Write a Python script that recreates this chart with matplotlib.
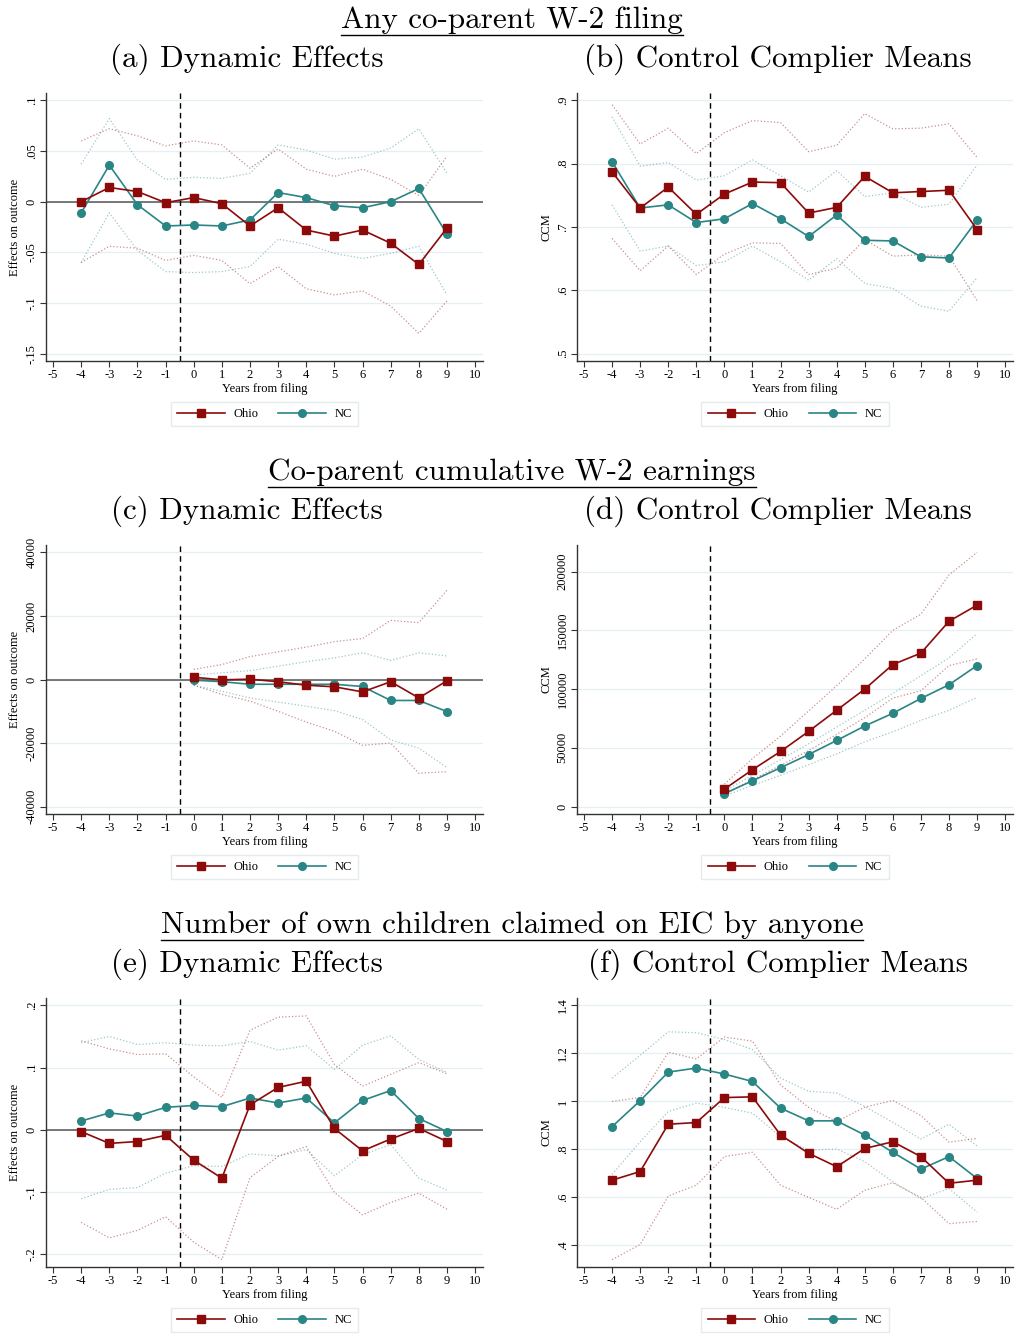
import numpy as np
import matplotlib
matplotlib.use("Agg")
import matplotlib.pyplot as plt
from matplotlib.lines import Line2D

plt.rcParams['font.family'] = ['Liberation Serif', 'DejaVu Serif']
plt.rcParams['axes.unicode_minus'] = False

# ---- data ----
years = [-4, -3, -2, -1, 0, 1, 2, 3, 4, 5, 6, 7, 8, 9]
years_post = [0, 1, 2, 3, 4, 5, 6, 7, 8, 9]

# (a) any co-parent W-2 filing, dynamic effects
a_ohio = [0.000, 0.014, 0.010, -0.001, 0.004, -0.002, -0.024, -0.006, -0.028, -0.034, -0.028, -0.041, -0.062, -0.026]
a_ohio_hi = [0.060, 0.072, 0.065, 0.055, 0.060, 0.056, 0.033, 0.052, 0.032, 0.025, 0.032, 0.022, 0.006, 0.045]
a_ohio_lo = [-0.060, -0.044, -0.046, -0.058, -0.053, -0.058, -0.081, -0.064, -0.086, -0.092, -0.088, -0.103, -0.130, -0.098]
a_nc = [-0.011, 0.036, -0.003, -0.024, -0.023, -0.024, -0.018, 0.009, 0.004, -0.004, -0.006, 0.000, 0.013, -0.032]
a_nc_hi = [0.037, 0.082, 0.041, 0.022, 0.024, 0.023, 0.028, 0.056, 0.051, 0.042, 0.044, 0.053, 0.072, 0.028]
a_nc_lo = [-0.060, -0.011, -0.048, -0.069, -0.070, -0.069, -0.064, -0.037, -0.042, -0.051, -0.056, -0.051, -0.044, -0.092]

# (b) any co-parent W-2 filing, control complier means
b_ohio = [0.787, 0.730, 0.763, 0.720, 0.752, 0.771, 0.770, 0.722, 0.731, 0.780, 0.754, 0.756, 0.758, 0.696]
b_ohio_hi = [0.893, 0.831, 0.856, 0.816, 0.849, 0.868, 0.865, 0.819, 0.829, 0.879, 0.855, 0.856, 0.863, 0.810]
b_ohio_lo = [0.682, 0.631, 0.670, 0.625, 0.657, 0.675, 0.674, 0.625, 0.635, 0.680, 0.654, 0.656, 0.654, 0.584]
b_nc = [0.803, 0.730, 0.735, 0.707, 0.713, 0.737, 0.713, 0.685, 0.719, 0.679, 0.678, 0.653, 0.651, 0.711]
b_nc_hi = [0.874, 0.796, 0.802, 0.774, 0.781, 0.806, 0.781, 0.755, 0.789, 0.748, 0.754, 0.731, 0.736, 0.798]
b_nc_lo = [0.735, 0.662, 0.670, 0.639, 0.645, 0.670, 0.645, 0.616, 0.650, 0.611, 0.603, 0.575, 0.567, 0.620]

# (c) cumulative W-2 earnings, dynamic effects
c_ohio = [700, -100, 100, -700, -1800, -2300, -3900, -700, -5800, -400]
c_ohio_hi = [3200, 4700, 7200, 8700, 10200, 11900, 12900, 18600, 17900, 28100]
c_ohio_lo = [-1800, -4700, -6800, -10000, -13400, -16300, -20700, -20000, -29500, -29000]
c_nc = [-200, -700, -1500, -1500, -1500, -1500, -2200, -6600, -6600, -10100]
c_nc_hi = [1400, 2100, 2800, 4200, 5600, 6800, 8400, 6000, 8400, 7400]
c_nc_lo = [-1800, -3700, -5800, -7100, -8400, -9800, -12600, -19000, -21600, -27700]

# (d) cumulative W-2 earnings, control complier means
d_ohio = [14900, 31400, 46900, 64000, 82000, 100000, 120900, 130600, 157700, 171400]
d_ohio_hi = [19100, 40900, 60000, 81400, 102900, 125700, 150000, 163700, 197100, 216300]
d_ohio_lo = [10600, 22900, 35100, 47700, 61400, 75700, 92300, 98600, 120000, 125700]
d_nc = [11100, 22000, 33100, 44300, 56300, 68600, 79400, 92000, 103700, 120000]
d_nc_hi = [13400, 26600, 40000, 53400, 67700, 82000, 96300, 111400, 126600, 147100]
d_nc_lo = [9100, 18000, 26600, 35700, 44900, 55100, 63700, 73400, 82000, 92900]

# (e) own children claimed on EIC, dynamic effects
e_ohio = [-0.003, -0.022, -0.019, -0.009, -0.049, -0.078, 0.040, 0.068, 0.078, 0.002, -0.034, -0.015, 0.002, -0.019]
e_ohio_hi = [0.143, 0.130, 0.121, 0.122, 0.085, 0.052, 0.160, 0.181, 0.183, 0.105, 0.070, 0.089, 0.108, 0.090]
e_ohio_lo = [-0.149, -0.174, -0.162, -0.140, -0.181, -0.209, -0.077, -0.043, -0.027, -0.101, -0.137, -0.117, -0.102, -0.128]
e_nc = [0.014, 0.027, 0.022, 0.036, 0.039, 0.037, 0.051, 0.043, 0.051, 0.011, 0.047, 0.063, 0.018, -0.003]
e_nc_hi = [0.140, 0.150, 0.137, 0.140, 0.136, 0.135, 0.142, 0.128, 0.135, 0.097, 0.136, 0.151, 0.113, 0.092]
e_nc_lo = [-0.111, -0.096, -0.093, -0.070, -0.058, -0.059, -0.039, -0.042, -0.032, -0.074, -0.040, -0.024, -0.078, -0.097]

# (f) own children claimed on EIC, control complier means
f_ohio = [0.672, 0.708, 0.905, 0.912, 1.016, 1.019, 0.860, 0.784, 0.728, 0.804, 0.832, 0.770, 0.659, 0.672]
f_ohio_hi = [1.000, 1.016, 1.205, 1.177, 1.268, 1.251, 1.069, 0.975, 0.916, 0.976, 1.004, 0.941, 0.830, 0.846]
f_ohio_lo = [0.341, 0.404, 0.606, 0.651, 0.770, 0.788, 0.651, 0.600, 0.551, 0.630, 0.661, 0.600, 0.491, 0.500]
f_nc = [0.895, 1.003, 1.122, 1.139, 1.114, 1.083, 0.972, 0.919, 0.919, 0.860, 0.788, 0.718, 0.770, 0.679]
f_nc_hi = [1.097, 1.192, 1.290, 1.286, 1.258, 1.216, 1.097, 1.042, 1.035, 0.979, 0.913, 0.843, 0.905, 0.814]
f_nc_lo = [0.696, 0.832, 0.958, 0.993, 0.975, 0.951, 0.853, 0.797, 0.802, 0.749, 0.665, 0.595, 0.637, 0.539]

section_titles = ["Any co-parent W-2 filing",
                  "Co-parent cumulative W-2 earnings",
                  "Number of own children claimed on EIC by anyone"]
panel_titles = ["(a) Dynamic Effects", "(b) Control Complier Means",
                "(c) Dynamic Effects", "(d) Control Complier Means",
                "(e) Dynamic Effects", "(f) Control Complier Means"]

xticks = list(range(-5, 11))
a_yticks = [-0.15, -0.1, -0.05, 0, 0.05, 0.1]
a_ylabels = ["-.15", "-.1", "-.05", "0", ".05", ".1"]
b_yticks = [0.5, 0.6, 0.7, 0.8, 0.9]
b_ylabels = [".5", ".6", ".7", ".8", ".9"]
c_yticks = [-40000, -20000, 0, 20000, 40000]
c_ylabels = ["-40000", "-20000", "0", "20000", "40000"]
d_yticks = [0, 50000, 100000, 150000, 200000]
d_ylabels = ["0", "50000", "100000", "150000", "200000"]
e_yticks = [-0.2, -0.1, 0, 0.1, 0.2]
e_ylabels = ["-.2", "-.1", "0", ".1", ".2"]
f_yticks = [0.4, 0.6, 0.8, 1.0, 1.2, 1.4]
f_ylabels = [".4", ".6", ".8", "1", "1.2", "1.4"]

OHIO = '#8c0a0a'
NC = '#2a8585'
GRID = '#e6eff1'
W, H = 1016, 1334

fig = plt.figure(figsize=(W / 100, H / 100), dpi=100)


def px_axes(x0, y0, x1, y1):
    # pixel box (top-left origin) -> figure fraction
    return fig.add_axes([x0 / W, 1 - y1 / H, (x1 - x0) / W, (y1 - y0) / H])


def draw_panel(ax, xs, ohio, ohio_hi, ohio_lo, nc, nc_hi, nc_lo,
               yticks, ylabels, ylabel, zero_line):
    # stata-like range: ticks or data, whichever is wider, plus a small margin
    lo = min(yticks[0], min(ohio_lo), min(nc_lo))
    hi = max(yticks[-1], max(ohio_hi), max(nc_hi))
    pad = (hi - lo) * 0.029
    ax.set_ylim(lo - pad, hi + pad)
    ax.set_xlim(-5.25, 10.28)
    for t in yticks:
        ax.axhline(t, color=GRID, lw=0.9, zorder=0)
    if zero_line:
        ax.axhline(0, color='#555555', lw=1.1, zorder=1)
    ax.axvline(-0.5, color='black', lw=1.0, ls=(0, (4, 3)), zorder=2)
    ax.plot(xs, ohio_hi, color=OHIO, ls=':', lw=0.9, alpha=0.45, zorder=2)
    ax.plot(xs, ohio_lo, color=OHIO, ls=':', lw=0.9, alpha=0.45, zorder=2)
    ax.plot(xs, nc_hi, color=NC, ls=':', lw=0.9, alpha=0.45, zorder=2)
    ax.plot(xs, nc_lo, color=NC, ls=':', lw=0.9, alpha=0.45, zorder=2)
    ax.plot(xs, ohio, color=OHIO, lw=1.2, marker='s', ms=5.5, zorder=4, label='Ohio')
    ax.plot(xs, nc, color=NC, lw=1.2, marker='o', ms=5.5, zorder=3, label='NC')

    ax.set_xticks(xticks)
    ax.set_xticklabels([str(v) for v in xticks], fontsize=9)
    ax.set_yticks(yticks)
    ax.set_yticklabels(ylabels, fontsize=9, rotation=90, va='center')
    ax.tick_params(axis='both', direction='out', length=4, width=0.8, color='#333333', pad=2)
    for s in ['top', 'right']:
        ax.spines[s].set_visible(False)
    for s in ['left', 'bottom']:
        ax.spines[s].set_color('#333333')
        ax.spines[s].set_linewidth(1.0)
    ax.set_xlabel('Years from filing', fontsize=9, labelpad=1)
    ax.set_ylabel(ylabel, fontsize=9, labelpad=3)
    leg = ax.legend(loc='upper center', bbox_to_anchor=(0.5, -0.152), ncol=2,
                    fontsize=9, frameon=True, fancybox=False, borderaxespad=0,
                    handlelength=3.8, columnspacing=1.6, handletextpad=0.7,
                    borderpad=0.5)
    leg.get_frame().set_edgecolor('#dde6e8')
    leg.get_frame().set_linewidth(1.0)


left_box = (46, 483)
right_box = (577, 1013)
rows = [(93, 361), (545, 814), (998, 1267)]

panels = [
    (years, a_ohio, a_ohio_hi, a_ohio_lo, a_nc, a_nc_hi, a_nc_lo, a_yticks, a_ylabels, 'Effects on outcome', True),
    (years, b_ohio, b_ohio_hi, b_ohio_lo, b_nc, b_nc_hi, b_nc_lo, b_yticks, b_ylabels, 'CCM', False),
    (years_post, c_ohio, c_ohio_hi, c_ohio_lo, c_nc, c_nc_hi, c_nc_lo, c_yticks, c_ylabels, 'Effects on outcome', True),
    (years_post, d_ohio, d_ohio_hi, d_ohio_lo, d_nc, d_nc_hi, d_nc_lo, d_yticks, d_ylabels, 'CCM', False),
    (years, e_ohio, e_ohio_hi, e_ohio_lo, e_nc, e_nc_hi, e_nc_lo, e_yticks, e_ylabels, 'Effects on outcome', True),
    (years, f_ohio, f_ohio_hi, f_ohio_lo, f_nc, f_nc_hi, f_nc_lo, f_yticks, f_ylabels, 'CCM', False),
]

for i, p in enumerate(panels):
    r = rows[i // 2]
    xb = left_box if i % 2 == 0 else right_box
    ax = px_axes(xb[0], r[0], xb[1], r[1])
    draw_panel(ax, *p)

# titles in Computer Modern
title_y = [20, 472, 925]
sub_y = [59, 511, 964]
renderer = fig.canvas.get_renderer()
for k in range(3):
    t = fig.text(512 / W, 1 - title_y[k] / H, section_titles[k], family='cmr10',
                 fontsize=22.4, ha='center', va='center')
    bb = t.get_window_extent(renderer=renderer)
    uy = bb.y0 - 1
    fig.add_artist(Line2D([bb.x0 / W, bb.x1 / W], [uy / H, uy / H],
                          transform=fig.transFigure, color='black', lw=1.0))
    fig.text(247 / W, 1 - sub_y[k] / H, panel_titles[2 * k], family='cmr10',
             fontsize=22.4, ha='center', va='center')
    fig.text(778 / W, 1 - sub_y[k] / H, panel_titles[2 * k + 1], family='cmr10',
             fontsize=22.4, ha='center', va='center')

fig.savefig('out.png', dpi=100)
